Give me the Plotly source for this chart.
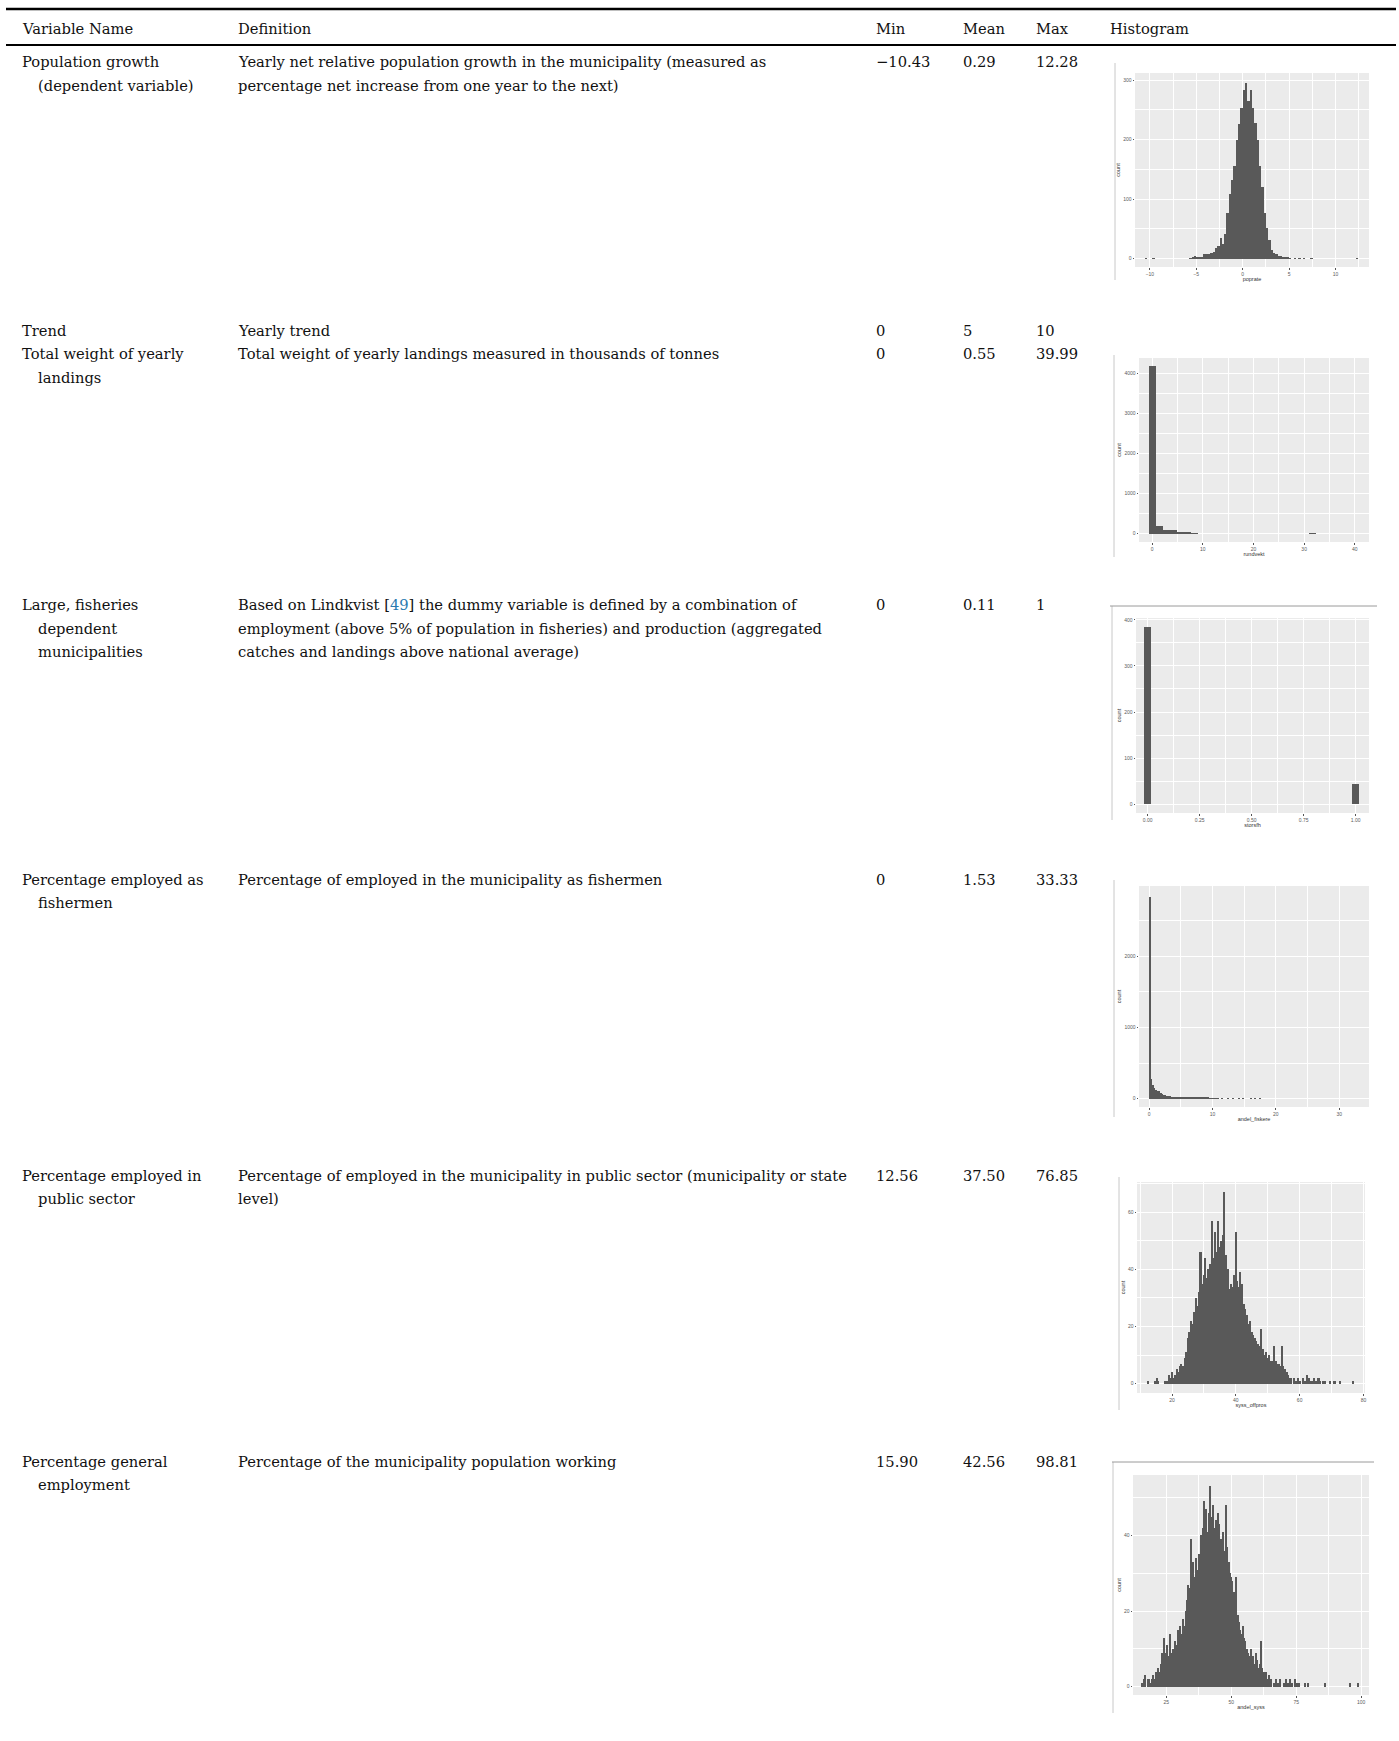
import plotly.graph_objects as go

W, H = 1399, 1741

# ---------------- table data ----------------
header = ["Variable Name", "Definition", "Min", "Mean", "Max", "Histogram"]
var_names = [
    ["Population growth", "(dependent variable)"],
    ["Trend"],
    ["Total weight of yearly", "landings"],
    ["Large, fisheries", "dependent", "municipalities"],
    ["Percentage employed as", "fishermen"],
    ["Percentage employed in", "public sector"],
    ["Percentage general", "employment"],
]
definitions = [
    ["Yearly net relative population growth in the municipality (measured as",
     "percentage net increase from one year to the next)"],
    ["Yearly trend"],
    ["Total weight of yearly landings measured in thousands of tonnes"],
    ["Based on Lindkvist [<span style='color:#2a7ab0'>49</span>] the dummy variable is defined by a combination of",
     "employment (above 5% of population in fisheries) and production (aggregated",
     "catches and landings above national average)"],
    ["Percentage of employed in the municipality as fishermen"],
    ["Percentage of employed in the municipality in public sector (municipality or state",
     "level)"],
    ["Percentage of the municipality population working"],
]
mins = ["\u221210.43", "0", "0", "0", "0", "12.56", "15.90"]
means = ["0.29", "5", "0.55", "0.11", "1.53", "37.50", "42.56"]
maxs = ["12.28", "10", "39.99", "1", "33.33", "76.85", "98.81"]

# ---------------- histogram data (bin start = left edge, width, counts) ----------------
poprate_start, poprate_bw = -5.75, 0.25
poprate_counts = [1, 2, 4, 2, 3, 2, 8, 8, 8, 10, 12, 18, 22, 34, 25, 42, 76, 108, 132, 156,
                  200, 227, 253, 284, 295, 265, 284, 253, 228, 200, 155, 121, 76, 51, 31, 14,
                  9, 8, 5, 4, 3, 2, 2, 1]
poprate_out_x = [-10.4, -9.6, 5.6, 6.1, 6.6, 7.4, 12.3]
poprate_out_n = [1, 1, 1, 1, 1, 1, 1]

rundvekt_start, rundvekt_bw = -0.6895, 1.379
rundvekt_counts = [4170, 200, 100, 100, 42, 20, 10]
rundvekt_out_x = [31.72]
rundvekt_out_n = [10]

storsfh_bw = 0.0345
storsfh_x = [0.0, 1.0]
storsfh_counts = [384, 45]

fiskere_start, fiskere_bw = 0.0, 0.25
fiskere_counts = [2830, 280, 190, 150, 120, 105, 110, 85, 70, 55, 45, 38,
                  32, 30, 28, 25, 24, 22, 20, 20, 18, 18,
                  16, 15, 15, 14, 14, 13, 12, 12, 12, 11, 11, 10,
                  9, 9, 8, 8, 7, 7, 6, 6, 5, 5]
fiskere_out_x = [11.5, 12.5, 13.3, 14.3, 14.8, 16.1, 16.8, 17.6]
fiskere_out_n = [3, 3, 2, 2, 2, 2, 2, 2]

offpros_start, offpros_bw = 17.75, 0.5
offpros_counts = [1, 1, 3, 2, 4, 2, 3, 5, 4, 6, 7, 6, 9, 11, 16, 18, 22, 21, 25, 30,
                  27, 32, 46, 35, 38, 44, 37, 40, 42, 57, 44, 53, 46, 57, 48, 50, 52, 67, 45, 40,
                  33, 35, 34, 38, 53, 36, 34, 39, 35, 28, 26, 24, 21, 22, 18, 17, 16, 15, 14, 13,
                  19, 12, 10, 11, 9, 10, 8, 8, 13, 8, 7, 7, 6, 13, 6, 5, 4, 3, 2, 2]
offpros_out_x = [12.6, 14.7, 15.3, 15.8, 58.2, 58.8, 59.5, 60.3, 61.0, 61.6, 62.4, 63.0,
                 63.8, 64.5, 65.2, 66.0, 66.5, 67.3, 68.1, 69.5, 71.0, 72.8, 76.8]
offpros_out_n = [1, 1, 2, 1, 2, 1, 2, 1, 2, 1, 3, 2, 1, 2, 1, 2, 1, 1, 1, 1, 1, 1, 1]

syss_start, syss_bw = 17.75, 0.5
syss_counts = [2, 2, 1, 2, 3, 2, 4, 3, 5, 4, 6, 9, 13, 7, 9, 11, 8, 14, 9, 10,
               8, 12, 11, 15, 13, 16, 14, 18, 16, 20, 23, 27, 26, 39, 30, 33, 29, 34, 31, 35,
               33, 40, 42, 49, 44, 47, 41, 46, 53, 45, 48, 42, 44, 40, 46, 43, 39, 38, 41, 36,
               48, 37, 33, 30, 29, 28, 25, 22, 29, 19, 17, 15, 14, 16, 13, 12, 10, 9, 8, 10,
               7, 8, 6, 9, 7, 5, 6, 12, 5, 4, 3, 4, 2, 3, 2, 2]
syss_out_x = [15.9, 16.5, 17.0, 66.5, 67.2, 68.0, 69.0, 70.3, 71.0, 72.0, 72.8, 73.5,
              74.5, 75.3, 76.0, 78.3, 79.7, 86.0, 95.8, 98.8]
syss_out_n = [1, 2, 3, 1, 2, 1, 2, 1, 2, 1, 2, 1, 2, 1, 1, 1, 1, 1, 1, 1]

# ---------------- layout constants ----------------
def px(x):
    return x / W

def py(y):
    return 1 - y / H

TXT = dict(family="DejaVu Serif", size=14.7, color="#111111")
col_x = [20, 236, 874, 961, 1034, 1108]
indent_x = 36
header_y = 28
row_y = [62, 330, 354, 605, 879, 1175, 1461]
line_h = 23.4

fig = go.Figure()
ann = []
shapes = []

# header
for cx, h in zip(col_x, header):
    ann.append(dict(x=px(cx), y=py(header_y), text=h))

for i in range(len(var_names)):
    y0 = row_y[i]
    for j, line in enumerate(var_names[i]):
        ann.append(dict(x=px(col_x[0] if j == 0 else indent_x), y=py(y0 + j * line_h), text=line))
    for j, line in enumerate(definitions[i]):
        ann.append(dict(x=px(col_x[1]), y=py(y0 + j * line_h), text=line))
    ann.append(dict(x=px(col_x[2]), y=py(y0), text=mins[i]))
    ann.append(dict(x=px(col_x[3]), y=py(y0), text=means[i]))
    ann.append(dict(x=px(col_x[4]), y=py(y0), text=maxs[i]))

for a in ann:
    a.update(xref="paper", yref="paper", xanchor="left", yanchor="middle",
             showarrow=False, font=TXT)

# rules
shapes.append(dict(type="line", xref="paper", yref="paper", x0=px(6), x1=px(1396),
                   y0=py(9), y1=py(9), line=dict(color="#000", width=2.5)))
shapes.append(dict(type="line", xref="paper", yref="paper", x0=px(6), x1=px(1396),
                   y0=py(45), y1=py(45), line=dict(color="#000", width=1.8)))

# ---------------- histograms ----------------
def centers(start, bw, counts):
    return [start + bw * (k + 0.5) for k in range(len(counts))]

hists = [
    dict(x=centers(poprate_start, poprate_bw, poprate_counts) + poprate_out_x,
         y=poprate_counts + poprate_out_n, bw=poprate_bw,
         panel=(1135, 73, 1369, 267), xr=[-11.6, 13.6], yr=[-14, 312], xd=5, yd=100,
         fmt=None, title="poprate", border=(1115, 63, 280), top=None),
    dict(x=centers(rundvekt_start, rundvekt_bw, rundvekt_counts) + rundvekt_out_x,
         y=rundvekt_counts + rundvekt_out_n, bw=rundvekt_bw,
         panel=(1139, 358, 1369, 542), xr=[-2.6, 42.8], yr=[-208, 4375], xd=10, yd=1000,
         fmt=None, title="rundvekt", border=(1114, 355, 557), top=None),
    dict(x=storsfh_x, y=storsfh_counts, bw=storsfh_bw,
         panel=(1136, 618, 1369, 813), xr=[-0.056, 1.064], yr=[-19, 404], xd=0.25, yd=100,
         fmt=".2f", title="storsfh", border=(1112, 606, 820), top=(1110, 1377, 606)),
    dict(x=centers(fiskere_start, fiskere_bw, fiskere_counts) + fiskere_out_x,
         y=fiskere_counts + fiskere_out_n, bw=fiskere_bw,
         panel=(1139, 886, 1369, 1107), xr=[-1.58, 34.7], yr=[-119, 2990], xd=10, yd=1000,
         fmt=None, title="andel_fiskere", border=(1114, 880, 1117), top=None),
    dict(x=centers(offpros_start, offpros_bw, offpros_counts) + offpros_out_x,
         y=offpros_counts + offpros_out_n, bw=offpros_bw,
         panel=(1137, 1182, 1365, 1393), xr=[9.0, 80.5], yr=[-3.3, 70.6], xd=20, yd=20,
         fmt=None, title="syss_offpros", border=(1119, 1177, 1410), top=None),
    dict(x=centers(syss_start, syss_bw, syss_counts) + syss_out_x,
         y=syss_counts + syss_out_n, bw=syss_bw,
         panel=(1133, 1475, 1369, 1695), xr=[12.2, 103], yr=[-2.2, 56], xd=25, yd=20,
         fmt=None, title="andel_syss", border=(1113, 1462, 1713), top=(1112, 1374, 1462)),
]

TICKF = dict(family="Liberation Sans", size=5, color="#5A5A5A")
TITF = dict(family="Liberation Sans", size=5.5, color="#333333")
layout_axes = {}
for k, h in enumerate(hists):
    n = "" if k == 0 else str(k + 1)
    x0, y0, x1, y1 = h["panel"]
    fig.add_trace(go.Bar(x=h["x"], y=h["y"], width=h["bw"],
                         marker=dict(color="#595959", line=dict(width=0)),
                         xaxis="x" + n, yaxis="y" + n, showlegend=False, hoverinfo="skip"))
    layout_axes["xaxis" + n] = dict(
        domain=[px(x0), px(x1)], range=h["xr"], anchor="y" + n,
        tickmode="linear", tick0=0, dtick=h["xd"], tickformat=h["fmt"],
        showgrid=True, gridcolor="white", gridwidth=0.8, zeroline=False, showline=False,
        minor=dict(dtick=h["xd"] / 2, tick0=0, showgrid=True, gridcolor="white", gridwidth=0.4),
        ticks="outside", ticklen=1.5, tickwidth=0.5, tickcolor="#555",
        tickfont=TICKF, title=dict(text=h["title"], font=TITF, standoff=1),
        automargin=False, fixedrange=True)
    layout_axes["yaxis" + n] = dict(
        domain=[py(y1), py(y0)], range=h["yr"], anchor="x" + n,
        tickmode="linear", tick0=0, dtick=h["yd"],
        showgrid=True, gridcolor="white", gridwidth=0.8, zeroline=False, showline=False,
        minor=dict(dtick=h["yd"] / 2, tick0=0, showgrid=True, gridcolor="white", gridwidth=0.4),
        ticks="outside", ticklen=1.5, tickwidth=0.5, tickcolor="#555",
        tickfont=TICKF, title=dict(text="count", font=TITF, standoff=2),
        automargin=False, fixedrange=True)
    # panel background
    shapes.append(dict(type="rect", xref="paper", yref="paper", x0=px(x0), x1=px(x1),
                       y0=py(y1), y1=py(y0), fillcolor="#EBEBEB", line=dict(width=0),
                       layer="below"))
    bx, by0, by1 = h["border"]
    shapes.append(dict(type="line", xref="paper", yref="paper", x0=px(bx), x1=px(bx),
                       y0=py(by0), y1=py(by1), line=dict(color="#C8C8C8", width=1)))
    if h["top"]:
        tx0, tx1, ty = h["top"]
        shapes.append(dict(type="line", xref="paper", yref="paper", x0=px(tx0), x1=px(tx1),
                           y0=py(ty), y1=py(ty), line=dict(color="#9A9A9A", width=1)))

fig.update_layout(
    width=W, height=H, margin=dict(l=0, r=0, t=0, b=0),
    paper_bgcolor="white", plot_bgcolor="rgba(0,0,0,0)",
    annotations=ann, shapes=shapes, bargap=0, showlegend=False,
    **layout_axes,
)

fig.write_html("out.html", config={"displayModeBar": False},
               post_script="document.body.style.margin='0';document.body.style.overflow='hidden';")
